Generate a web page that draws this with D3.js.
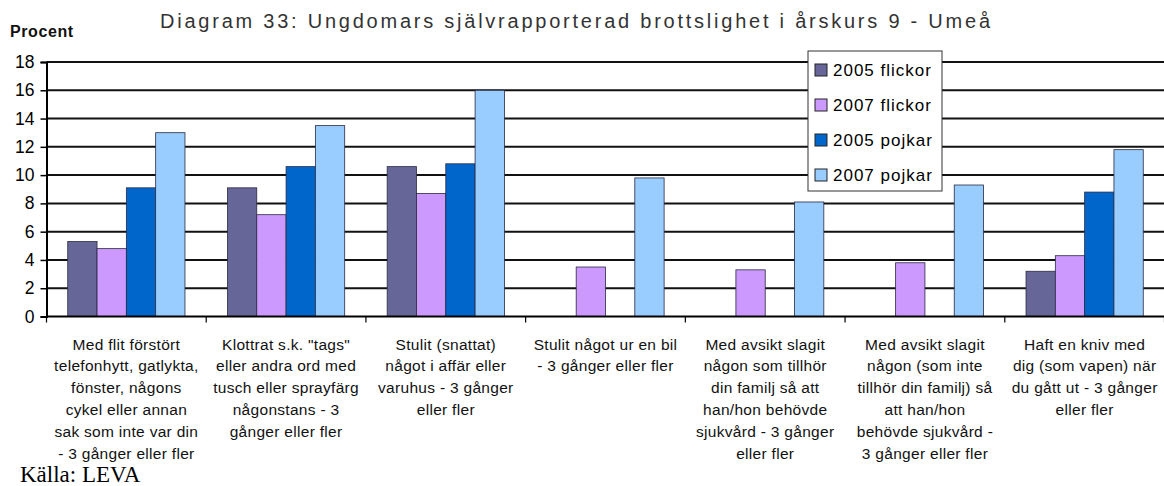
<!DOCTYPE html>
<html>
<head>
<meta charset="utf-8">
<script src="https://cdn.jsdelivr.net/npm/d3@7"></script>
<style>
  html, body { margin: 0; padding: 0; background: #fff; }
  svg { display: block; font-family: "Liberation Sans", Arial, sans-serif; }
</style>
</head>
<body>
<svg id="chart" width="1164" height="486"></svg>
<script>
// Categories (line breaks mark how each axis label wraps)
const categories = [
  "Med flit förstört\ntelefonhytt, gatlykta,\nfönster, någons\ncykel eller annan\nsak som inte var din\n- 3 gånger eller fler",
  "Klottrat s.k. \"tags\"\neller andra ord med\ntusch eller sprayfärg\nnågonstans - 3\ngånger eller fler",
  "Stulit (snattat)\nnågot i affär eller\nvaruhus - 3 gånger\neller fler",
  "Stulit något ur en bil\n- 3 gånger eller fler",
  "Med avsikt slagit\nnågon som tillhör\ndin familj så att\nhan/hon behövde\nsjukvård - 3 gånger\neller fler",
  "Med avsikt slagit\nnågon (som inte\ntillhör din familj) så\natt han/hon\nbehövde sjukvård -\n3 gånger eller fler",
  "Haft en kniv med\ndig (som vapen) när\ndu gått ut - 3 gånger\neller fler"
];

// Series names and values (percent); null = not asked that year
const seriesNames = ["2005 flickor", "2007 flickor", "2005 pojkar", "2007 pojkar"];
const flickor2005 = [5.3, 9.1, 10.6, null, null, null, 3.2];
const flickor2007 = [4.8, 7.2, 8.7, 3.5, 3.3, 3.8, 4.3];
const pojkar2005  = [9.1, 10.6, 10.8, null, null, null, 8.8];
const pojkar2007  = [13.0, 13.5, 16.0, 9.8, 8.1, 9.3, 11.8];
const seriesColors = ["#666699", "#CC99FF", "#0066CC", "#99CCFF"];

const yTicks = [0, 2, 4, 6, 8, 10, 12, 14, 16, 18];

const titleText = "Diagram 33: Ungdomars självrapporterad brottslighet i årskurs 9 - Umeå";
const yAxisTitle = "Procent";
const sourceText = "Källa: LEVA";

const seriesValues = [flickor2005, flickor2007, pojkar2005, pojkar2007];

const svg = d3.select("#chart");

const plot = { left: 46.5, right: 1164.5, top: 62, bottom: 316.5 };

const x0 = d3.scaleBand()
  .domain(d3.range(categories.length))
  .range([plot.left, plot.right])
  .padding(0);

const bw = x0.bandwidth();
const x1 = d3.scaleBand()
  .domain(d3.range(seriesNames.length))
  .range([bw * 0.133, bw * 0.867])
  .padding(0);

const y = d3.scaleLinear().domain([0, 18]).range([plot.bottom, plot.top]);

// Horizontal gridlines
svg.append("g")
  .selectAll("line")
  .data(yTicks.filter(d => d > 0))
  .join("line")
  .attr("x1", plot.left)
  .attr("x2", plot.right)
  .attr("y1", d => y(d))
  .attr("y2", d => y(d))
  .attr("stroke", "#111")
  .attr("stroke-width", 2);

// Bars
const groups = svg.append("g")
  .selectAll("g")
  .data(categories.map((c, i) => i))
  .join("g")
  .attr("transform", i => `translate(${x0(i)},0)`);

groups.selectAll("rect")
  .data(i => seriesValues.map((vals, s) => ({ s, v: vals[i] })).filter(d => d.v != null))
  .join("rect")
  .attr("x", d => x1(d.s))
  .attr("width", x1.bandwidth())
  .attr("y", d => y(d.v))
  .attr("height", d => y(0) - y(d.v))
  .attr("fill", d => seriesColors[d.s])
  .attr("stroke", "#2a2a40")
  .attr("stroke-width", 0.8);

// Y axis
const yAxis = d3.axisLeft(y).tickValues(yTicks).tickSize(6).tickPadding(6);
const gy = svg.append("g")
  .attr("transform", `translate(${plot.left},0)`)
  .call(yAxis);
gy.select(".domain").attr("stroke", "#000").attr("stroke-width", 2);
gy.selectAll(".tick line").attr("stroke", "#000").attr("stroke-width", 1.5);
gy.selectAll(".tick text")
  .attr("font-size", 17.5)
  .attr("font-family", "'Liberation Sans', Arial, sans-serif")
  .attr("fill", "#000");

// X axis with ticks between categories
const gx = svg.append("g");
gx.append("line")
  .attr("x1", plot.left).attr("x2", plot.right)
  .attr("y1", y(0)).attr("y2", y(0))
  .attr("stroke", "#000").attr("stroke-width", 2);
gx.selectAll("line.tick")
  .data(d3.range(categories.length + 1))
  .join("line")
  .attr("class", "tick")
  .attr("x1", i => i < categories.length ? x0(i) : plot.right)
  .attr("x2", i => i < categories.length ? x0(i) : plot.right)
  .attr("y1", y(0))
  .attr("y2", y(0) + 6)
  .attr("stroke", "#000")
  .attr("stroke-width", 1.2);

// Category labels
const labels = svg.append("g")
  .selectAll("text")
  .data(categories)
  .join("text")
  .attr("text-anchor", "middle")
  .attr("font-size", 15.5)
  .attr("fill", "#111")
  .attr("transform", (d, i) => `translate(${x0(i) + bw / 2},${y(0) + 33})`);
labels.selectAll("tspan")
  .data(d => d.split("\n"))
  .join("tspan")
  .attr("x", 0)
  .attr("y", (d, j) => j * 21.8)
  .attr("letter-spacing", 0.3)
  .text(d => d);

// Titles
svg.append("text")
  .attr("x", 160).attr("y", 28)
  .attr("font-size", 20)
  .attr("fill", "#333")
  .attr("textLength", 830)
  .attr("lengthAdjust", "spacing")
  .text(titleText);

svg.append("text")
  .attr("x", 10).attr("y", 37)
  .attr("font-size", 16)
  .attr("font-weight", "bold")
  .attr("fill", "#111")
  .attr("letter-spacing", 0.6)
  .text(yAxisTitle);

svg.append("text")
  .attr("x", 20).attr("y", 482)
  .attr("font-family", "'Liberation Serif', 'Times New Roman', serif")
  .attr("font-size", 23)
  .attr("fill", "#000")
  .text(sourceText);

// Legend
const legend = svg.append("g").attr("transform", "translate(808,51)");
legend.append("rect")
  .attr("width", 134).attr("height", 140)
  .attr("fill", "#fff")
  .attr("stroke", "#333")
  .attr("stroke-width", 1);
const items = legend.selectAll("g.item")
  .data(seriesNames)
  .join("g")
  .attr("class", "item")
  .attr("transform", (d, i) => `translate(0,${19 + i * 35})`);
items.append("rect")
  .attr("x", 7).attr("y", -6)
  .attr("width", 12).attr("height", 12)
  .attr("fill", (d, i) => seriesColors[i])
  .attr("stroke", "#222")
  .attr("stroke-width", 1);
items.append("text")
  .attr("x", 25)
  .attr("dy", "0.36em")
  .attr("font-size", 17)
  .attr("letter-spacing", 1)
  .attr("fill", "#000")
  .text(d => d);
</script>
</body>
</html>
